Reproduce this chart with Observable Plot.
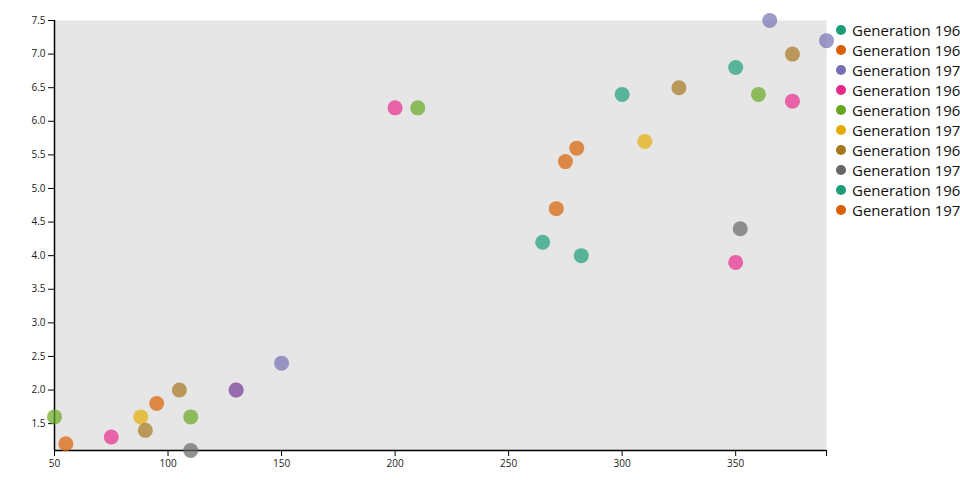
<!DOCTYPE html>
<html>
<head>
<meta charset="utf-8">
<script src="https://cdn.jsdelivr.net/npm/d3@7"></script>
<script src="https://cdn.jsdelivr.net/npm/@observablehq/plot@0.6"></script>
<style>
  html, body { margin: 0; padding: 0; overflow: hidden; background: #fff; }
  #wrap { position: relative; width: 960px; height: 500px; font-family: "Open Sans", sans-serif; }
  #legend { position: absolute; left: 836px; top: 20px; white-space: nowrap; }
  .row { height: 20px; display: flex; align-items: center; font-size: 15px; color: #111; }
  .sw { width: 10px; height: 10px; border-radius: 50%; margin-right: 6px; flex: none; }
</style>
</head>
<body>
<div id="wrap"><div id="legend"></div></div>
<script>
const series = ["Generation 1960", "Generation 1962", "Generation 1970", "Generation 1964", "Generation 1966",
                "Generation 1972", "Generation 1968", "Generation 1974", "Generation 1969", "Generation 1976"];
const palette = ["#1b9e77", "#d95f02", "#7570b3", "#e7298a", "#66a61e", "#e6ab02", "#a6761d", "#666666", "#1b9e77", "#d95f02"];

const pointSeries = [
  "Generation 1966", "Generation 1962", "Generation 1964", "Generation 1972", "Generation 1968",
  "Generation 1976", "Generation 1968", "Generation 1966", "Generation 1974", "Generation 1964",
  "Generation 1970", "Generation 1970",
  "Generation 1964", "Generation 1966", "Generation 1960", "Generation 1960", "Generation 1962",
  "Generation 1976", "Generation 1962", "Generation 1972", "Generation 1968", "Generation 1969",
  "Generation 1969", "Generation 1966", "Generation 1964", "Generation 1968", "Generation 1970",
  "Generation 1970", "Generation 1974", "Generation 1964"
];
const xValues = [50, 55, 75, 88, 90, 95, 105, 110, 110, 130, 130, 150,
                 200, 210, 265, 282, 271, 275, 280, 310, 325, 300,
                 350, 360, 375, 375, 365, 390, 352, 350];
const yValues = [1.6, 1.2, 1.3, 1.6, 1.4, 1.8, 2.0, 1.6, 1.1, 2.0, 2.0, 2.4,
                 6.2, 6.2, 4.2, 4.0, 4.7, 5.4, 5.6, 5.7, 6.5, 6.4,
                 6.8, 6.4, 6.3, 7.0, 7.5, 7.2, 4.4, 3.9];

const data = xValues.map((x, i) => ({x, y: yValues[i], s: pointSeries[i]}));
const xTicks = [50, 100, 150, 200, 250, 300, 350];
const yTicks = [1.5, 2.0, 2.5, 3.0, 3.5, 4.0, 4.5, 5.0, 5.5, 6.0, 6.5, 7.0, 7.5];

const xDom = d3.extent(xValues);
const yDom = d3.extent(yValues);

const chart = Plot.plot({
  width: 960,
  height: 500,
  marginTop: 20,
  marginBottom: 50,
  marginLeft: 54,
  marginRight: 134,
  style: {fontFamily: "Open Sans, sans-serif", fontSize: "10px", overflow: "visible"},
  x: {domain: xDom, label: null},
  y: {domain: yDom, label: null},
  color: {domain: series, range: palette},
  marks: [
    Plot.frame({fill: "#e6e6e6", stroke: null}),
    Plot.axisX({ticks: [...xTicks, xDom[1]], tickFormat: d => xTicks.includes(d) ? String(d) : "", tickSize: 6, tickPadding: 3, stroke: "#000", strokeOpacity: 1, color: "#222"}),
    Plot.axisY({ticks: yTicks, tickFormat: d3.format(".1f"), tickSize: 6, tickPadding: 3, stroke: "#000", strokeOpacity: 1, color: "#222"}),
    Plot.ruleY([yDom[0]], {stroke: "#000", strokeWidth: 1.5}),
    Plot.ruleX([xDom[0]], {stroke: "#000", strokeWidth: 1.5}),
    Plot.dot(data, {x: "x", y: "y", fill: "s", r: 7.5, fillOpacity: 0.7, stroke: "none", clip: false})
  ]
});
document.getElementById("wrap").prepend(chart);

const legend = document.getElementById("legend");
series.forEach((s, i) => {
  const row = document.createElement("div");
  row.className = "row";
  const sw = document.createElement("span");
  sw.className = "sw";
  sw.style.background = palette[i];
  const t = document.createElement("span");
  t.textContent = s;
  row.appendChild(sw); row.appendChild(t);
  legend.appendChild(row);
});
</script>
</body>
</html>
